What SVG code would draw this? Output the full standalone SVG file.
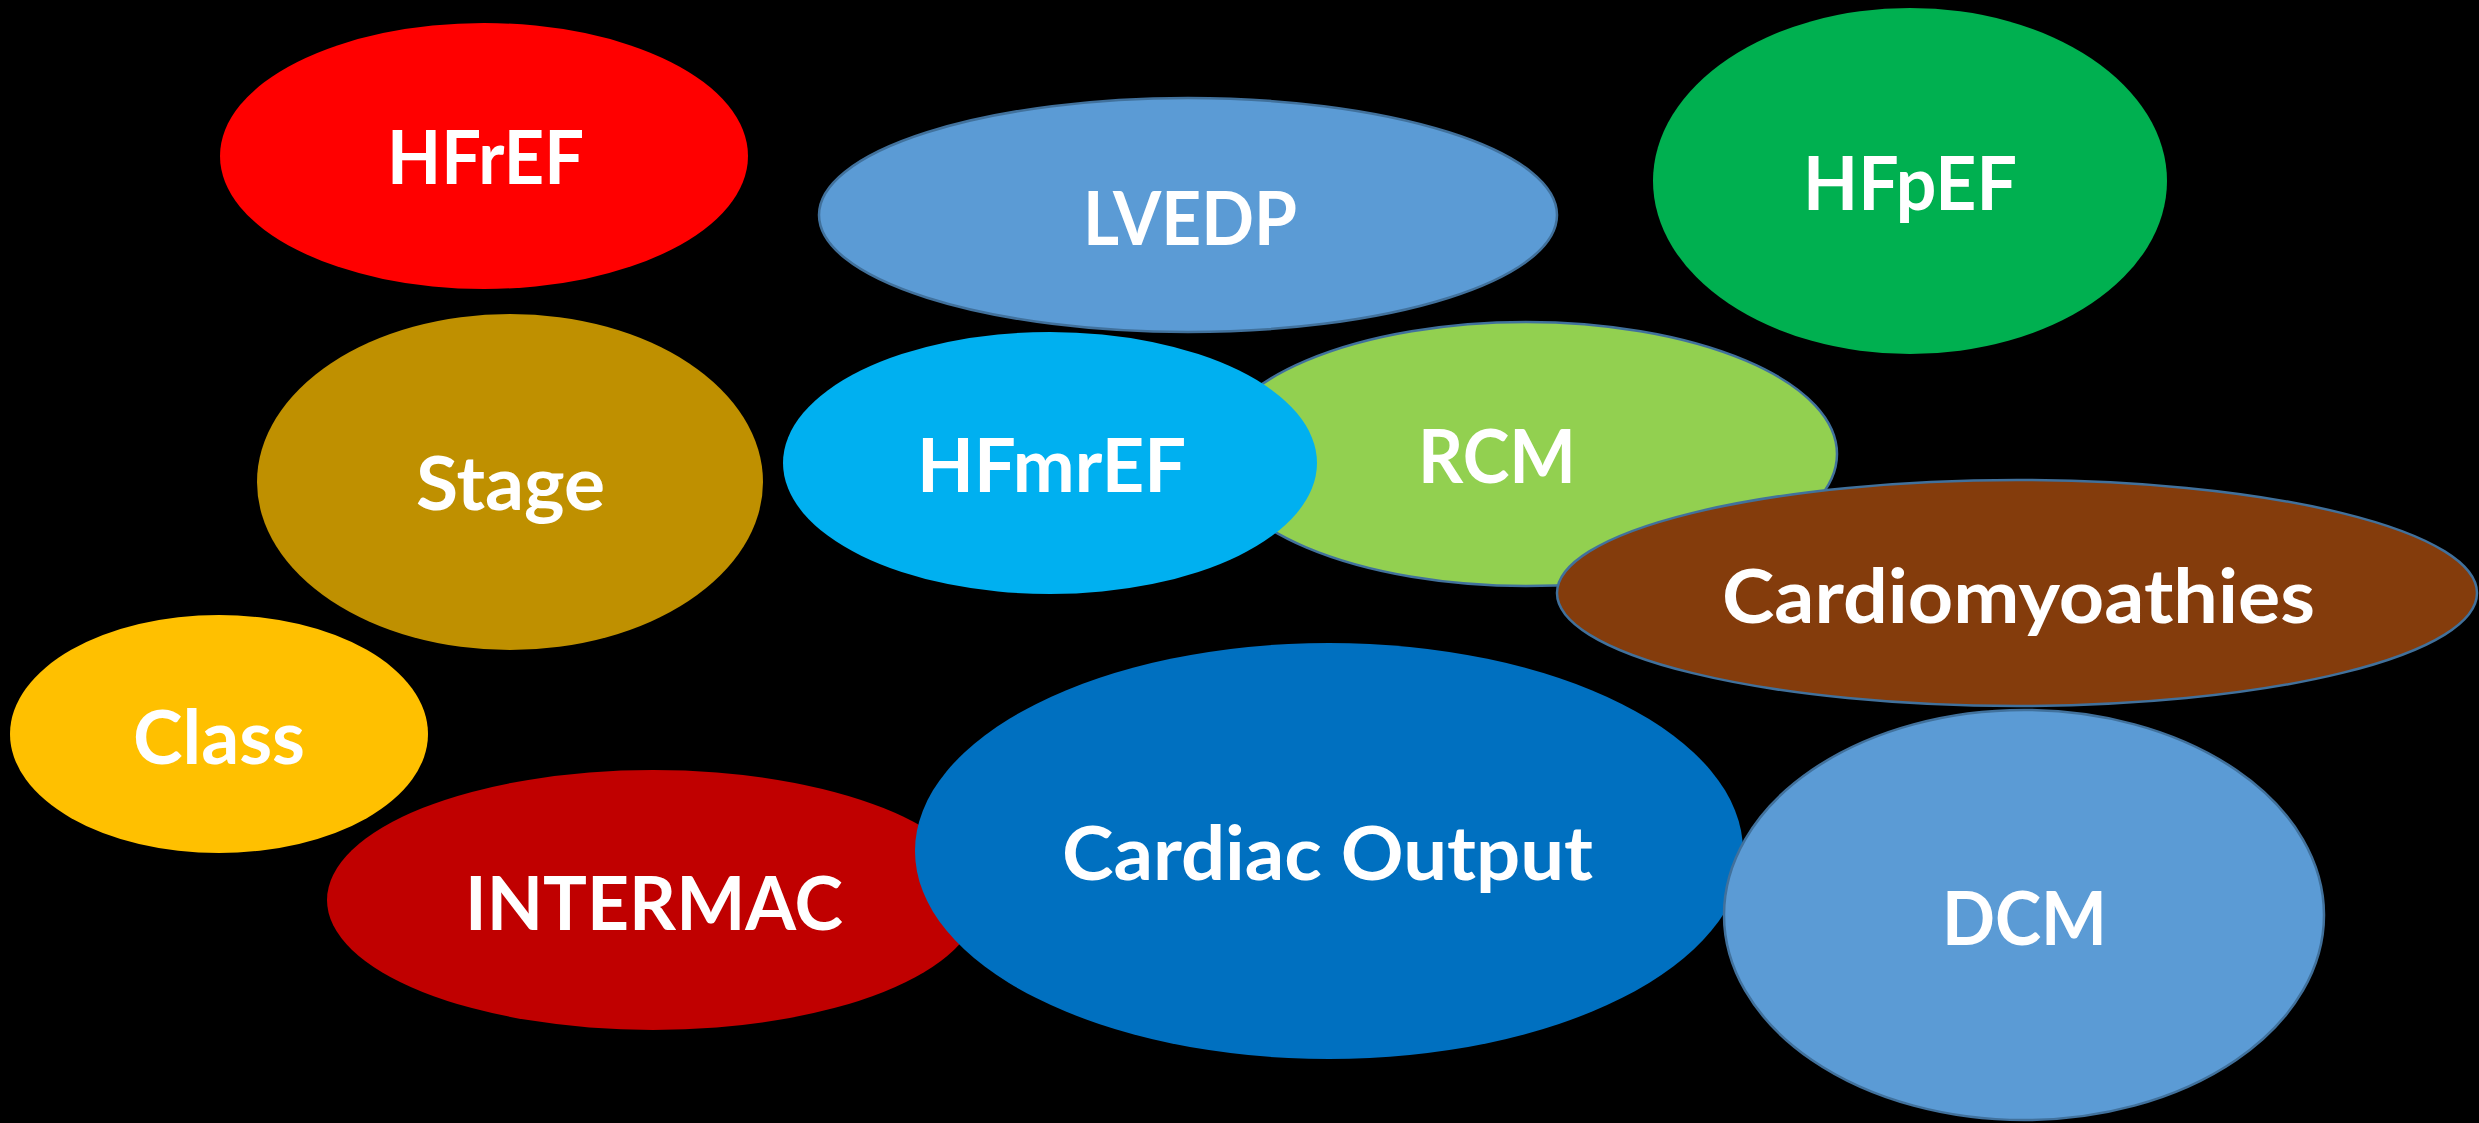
<svg xmlns="http://www.w3.org/2000/svg" width="2479" height="1123" viewBox="0 0 2479 1123">
<style>
.t{font-family:Lato,"Open Sans","Liberation Sans",sans-serif;font-weight:bold;font-size:74px;fill:#FFFFFF}
.o{stroke:#41719C;stroke-width:2.5}
</style>
<rect width="2479" height="1123" fill="#000000"/>
<g id="connectors"/>
<g id="lvedp"><ellipse class="o" cx="1188" cy="215" rx="369" ry="117" fill="#5B9BD5"/><text class="t" x="1083" y="245" textLength="214" lengthAdjust="spacingAndGlyphs">LVEDP</text></g>
<g id="hfref"><ellipse cx="484" cy="156" rx="264" ry="133" fill="#FF0000"/><text class="t" x="387" y="184" textLength="197" lengthAdjust="spacingAndGlyphs">HFrEF</text></g>
<g id="hfpef"><ellipse cx="1910" cy="181" rx="257" ry="173" fill="#00B050"/><text class="t" x="1803" y="210" textLength="214" lengthAdjust="spacingAndGlyphs">HFpEF</text></g>
<g id="stage"><ellipse cx="510" cy="482" rx="253" ry="168" fill="#BF9000"/><text class="t" x="416" y="510" textLength="189" lengthAdjust="spacingAndGlyphs">Stage</text></g>
<g id="rcm"><ellipse class="o" cx="1526" cy="454" rx="311" ry="132" fill="#92D050"/><text class="t" x="1418" y="483" textLength="158" lengthAdjust="spacingAndGlyphs">RCM</text></g>
<g id="hfmref"><ellipse cx="1050" cy="463" rx="267" ry="131" fill="#00B0F0"/><text class="t" x="917" y="492" textLength="269" lengthAdjust="spacingAndGlyphs">HFmrEF</text></g>
<g id="cardiomyoathies"><ellipse class="o" cx="2017" cy="593" rx="460" ry="113" fill="#843C0C"/><text class="t" x="1722" y="623" textLength="593" lengthAdjust="spacingAndGlyphs">Cardiomyoathies</text></g>
<g id="class"><ellipse cx="219" cy="734" rx="209" ry="119" fill="#FFC000"/><text class="t" x="133" y="764" textLength="172" lengthAdjust="spacingAndGlyphs">Class</text></g>
<g id="intermac"><ellipse cx="653" cy="900" rx="326" ry="130" fill="#C00000"/><text class="t" x="465" y="930" textLength="378" lengthAdjust="spacingAndGlyphs">INTERMAC</text></g>
<g id="cardiac-output"><ellipse cx="1329" cy="851" rx="414" ry="208" fill="#0070C0"/><text class="t" x="1062" y="880" textLength="531" lengthAdjust="spacingAndGlyphs">Cardiac Output</text></g>
<g id="dcm"><ellipse class="o" cx="2024" cy="915" rx="300" ry="205" fill="#5B9BD5"/><text class="t" x="1942" y="945" textLength="165" lengthAdjust="spacingAndGlyphs">DCM</text></g>
</svg>
